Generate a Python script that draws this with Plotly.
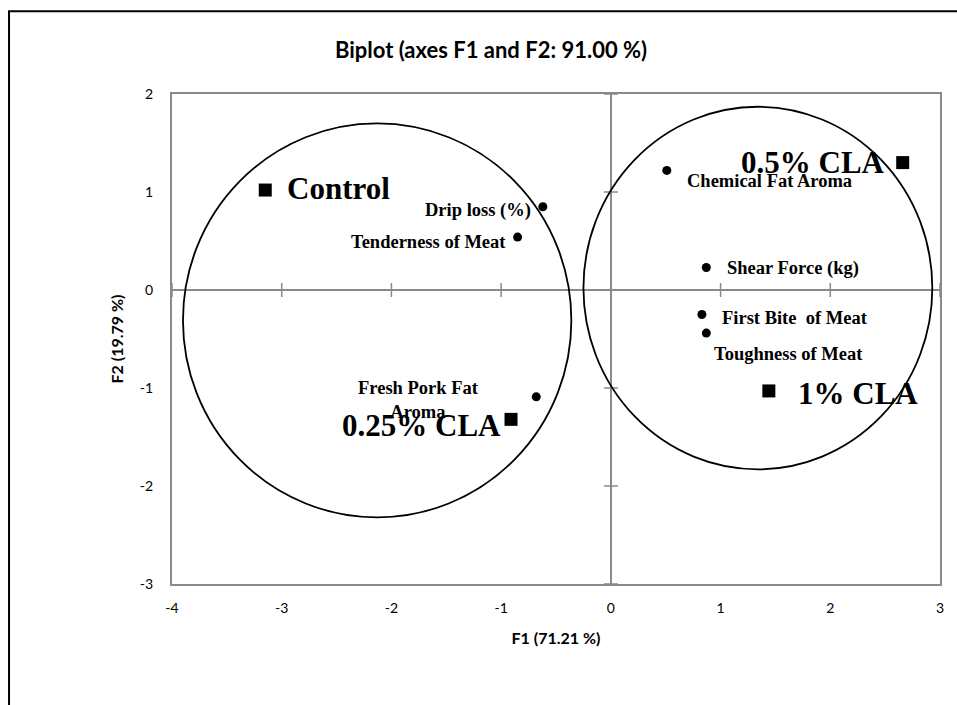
import plotly.graph_objects as go

# Observations (treatments) on the first two factors
obs_names = ["Control", "0.25% CLA", "0.5% CLA", "1% CLA"]
obs_f1 = [-3.15, -0.91, 2.66, 1.44]
obs_f2 = [1.02, -1.32, 1.30, -1.03]

# Variables (sensory / physical traits)
var_names = ["Drip loss (%)", "Tenderness of Meat", "Fresh Pork Fat<br>Aroma",
             "Chemical Fat Aroma", "Shear Force (kg)", "First Bite  of Meat",
             "Toughness of Meat"]
var_f1 = [-0.62, -0.85, -0.68, 0.51, 0.87, 0.83, 0.87]
var_f2 = [0.85, 0.54, -1.09, 1.22, 0.23, -0.25, -0.44]

# Group outlines: centre (F1, F2) and half-widths (F1, F2)
group_cx = [-2.13, 1.34]
group_cy = [-0.31, 0.02]
group_rx = [1.77, 1.59]
group_ry = [2.01, 1.85]

x_ticks = [-4, -3, -2, -1, 0, 1, 2, 3]
y_ticks = [-3, -2, -1, 0, 1, 2]

# label placement: (xanchor, xshift, yshift) in pixels
obs_label_pos = [("left", 20, 2), ("right", -8, -6), ("right", -16, 0), ("left", 27, -3)]
var_label_pos = [("right", -10, -4), ("right", -10, -5), ("center", -118, -3),
                 ("left", 18, -11), ("left", 19, -1), ("left", 18, -3), ("left", 6, -21)]

AXIS_GREY = "#8a8a8a"
SERIF = "Liberation Serif, Times New Roman, serif"
SANS = "Lato, Carlito, sans-serif"

fig = go.Figure()

# tick marks drawn across the zero axes
fig.add_trace(go.Scatter(
    x=x_ticks, y=[0] * len(x_ticks), mode="markers", hoverinfo="skip",
    marker=dict(symbol="line-ns", size=10, line=dict(color=AXIS_GREY, width=1.5)),
    showlegend=False))
fig.add_trace(go.Scatter(
    x=[0] * len(y_ticks), y=y_ticks, mode="markers", hoverinfo="skip",
    marker=dict(symbol="line-ew", size=10, line=dict(color=AXIS_GREY, width=1.5)),
    showlegend=False))

fig.add_trace(go.Scatter(
    x=var_f1, y=var_f2, mode="markers", name="Variables",
    marker=dict(symbol="circle", size=9, color="black"), showlegend=False))
fig.add_trace(go.Scatter(
    x=obs_f1, y=obs_f2, mode="markers", name="Observations",
    marker=dict(symbol="square", size=13, color="black"), showlegend=False))

for name, x, y, (anc, dx, dy) in zip(var_names, var_f1, var_f2, var_label_pos):
    fig.add_annotation(x=x, y=y, text=f"<b>{name}</b>", showarrow=False,
                       xanchor=anc, yanchor="middle", xshift=dx, yshift=dy,
                       font=dict(family=SERIF, size=18.5, color="black"))

for name, x, y, (anc, dx, dy) in zip(obs_names, obs_f1, obs_f2, obs_label_pos):
    fig.add_annotation(x=x, y=y, text=f"<b>{name}</b>", showarrow=False,
                       xanchor=anc, yanchor="middle", xshift=dx, yshift=dy,
                       font=dict(family=SERIF, size=31, color="black"))

for cx, cy, rx, ry in zip(group_cx, group_cy, group_rx, group_ry):
    fig.add_shape(type="circle", xref="x", yref="y",
                  x0=cx - rx, x1=cx + rx, y0=cy - ry, y1=cy + ry,
                  line=dict(color="black", width=1.8))

# outer chart frame
fig.add_shape(type="rect", xref="paper", yref="paper",
              x0=-0.2122, x1=1.2, y0=-0.5, y1=1.169,
              line=dict(color="black", width=2), layer="below")

axis_common = dict(
    showgrid=False, zeroline=True, zerolinecolor=AXIS_GREY, zerolinewidth=2,
    showline=True, linecolor=AXIS_GREY, linewidth=2, mirror=True,
    ticks="", tickfont=dict(family=SANS, size=14, color="black"),
)

fig.update_layout(
    width=957, height=705,
    margin=dict(l=172, r=17, t=94, b=121),
    paper_bgcolor="white", plot_bgcolor="white",
    title=dict(text="<b>Biplot (axes F1 and F2: 91.00 %)</b>",
               x=491 / 957, xanchor="center",
               y=1 - 50 / 705, yanchor="middle",
               font=dict(family=SANS, size=22, color="black")),
    xaxis=dict(range=[-4, 3], tickvals=x_ticks, ticktext=[str(t) for t in x_ticks],
               ticklabelstandoff=10,
               title=dict(text="<b>F1 (71.21 %)</b>", standoff=18,
                          font=dict(family=SANS, size=16, color="black")),
               **axis_common),
    yaxis=dict(range=[-3, 2], tickvals=y_ticks, ticktext=[str(t) for t in y_ticks],
               ticklabelstandoff=14,
               title=dict(text="<b>F2 (19.79 %)</b>", standoff=12,
                          font=dict(family=SANS, size=16, color="black")),
               **axis_common),
)

fig.write_html("out.html")
